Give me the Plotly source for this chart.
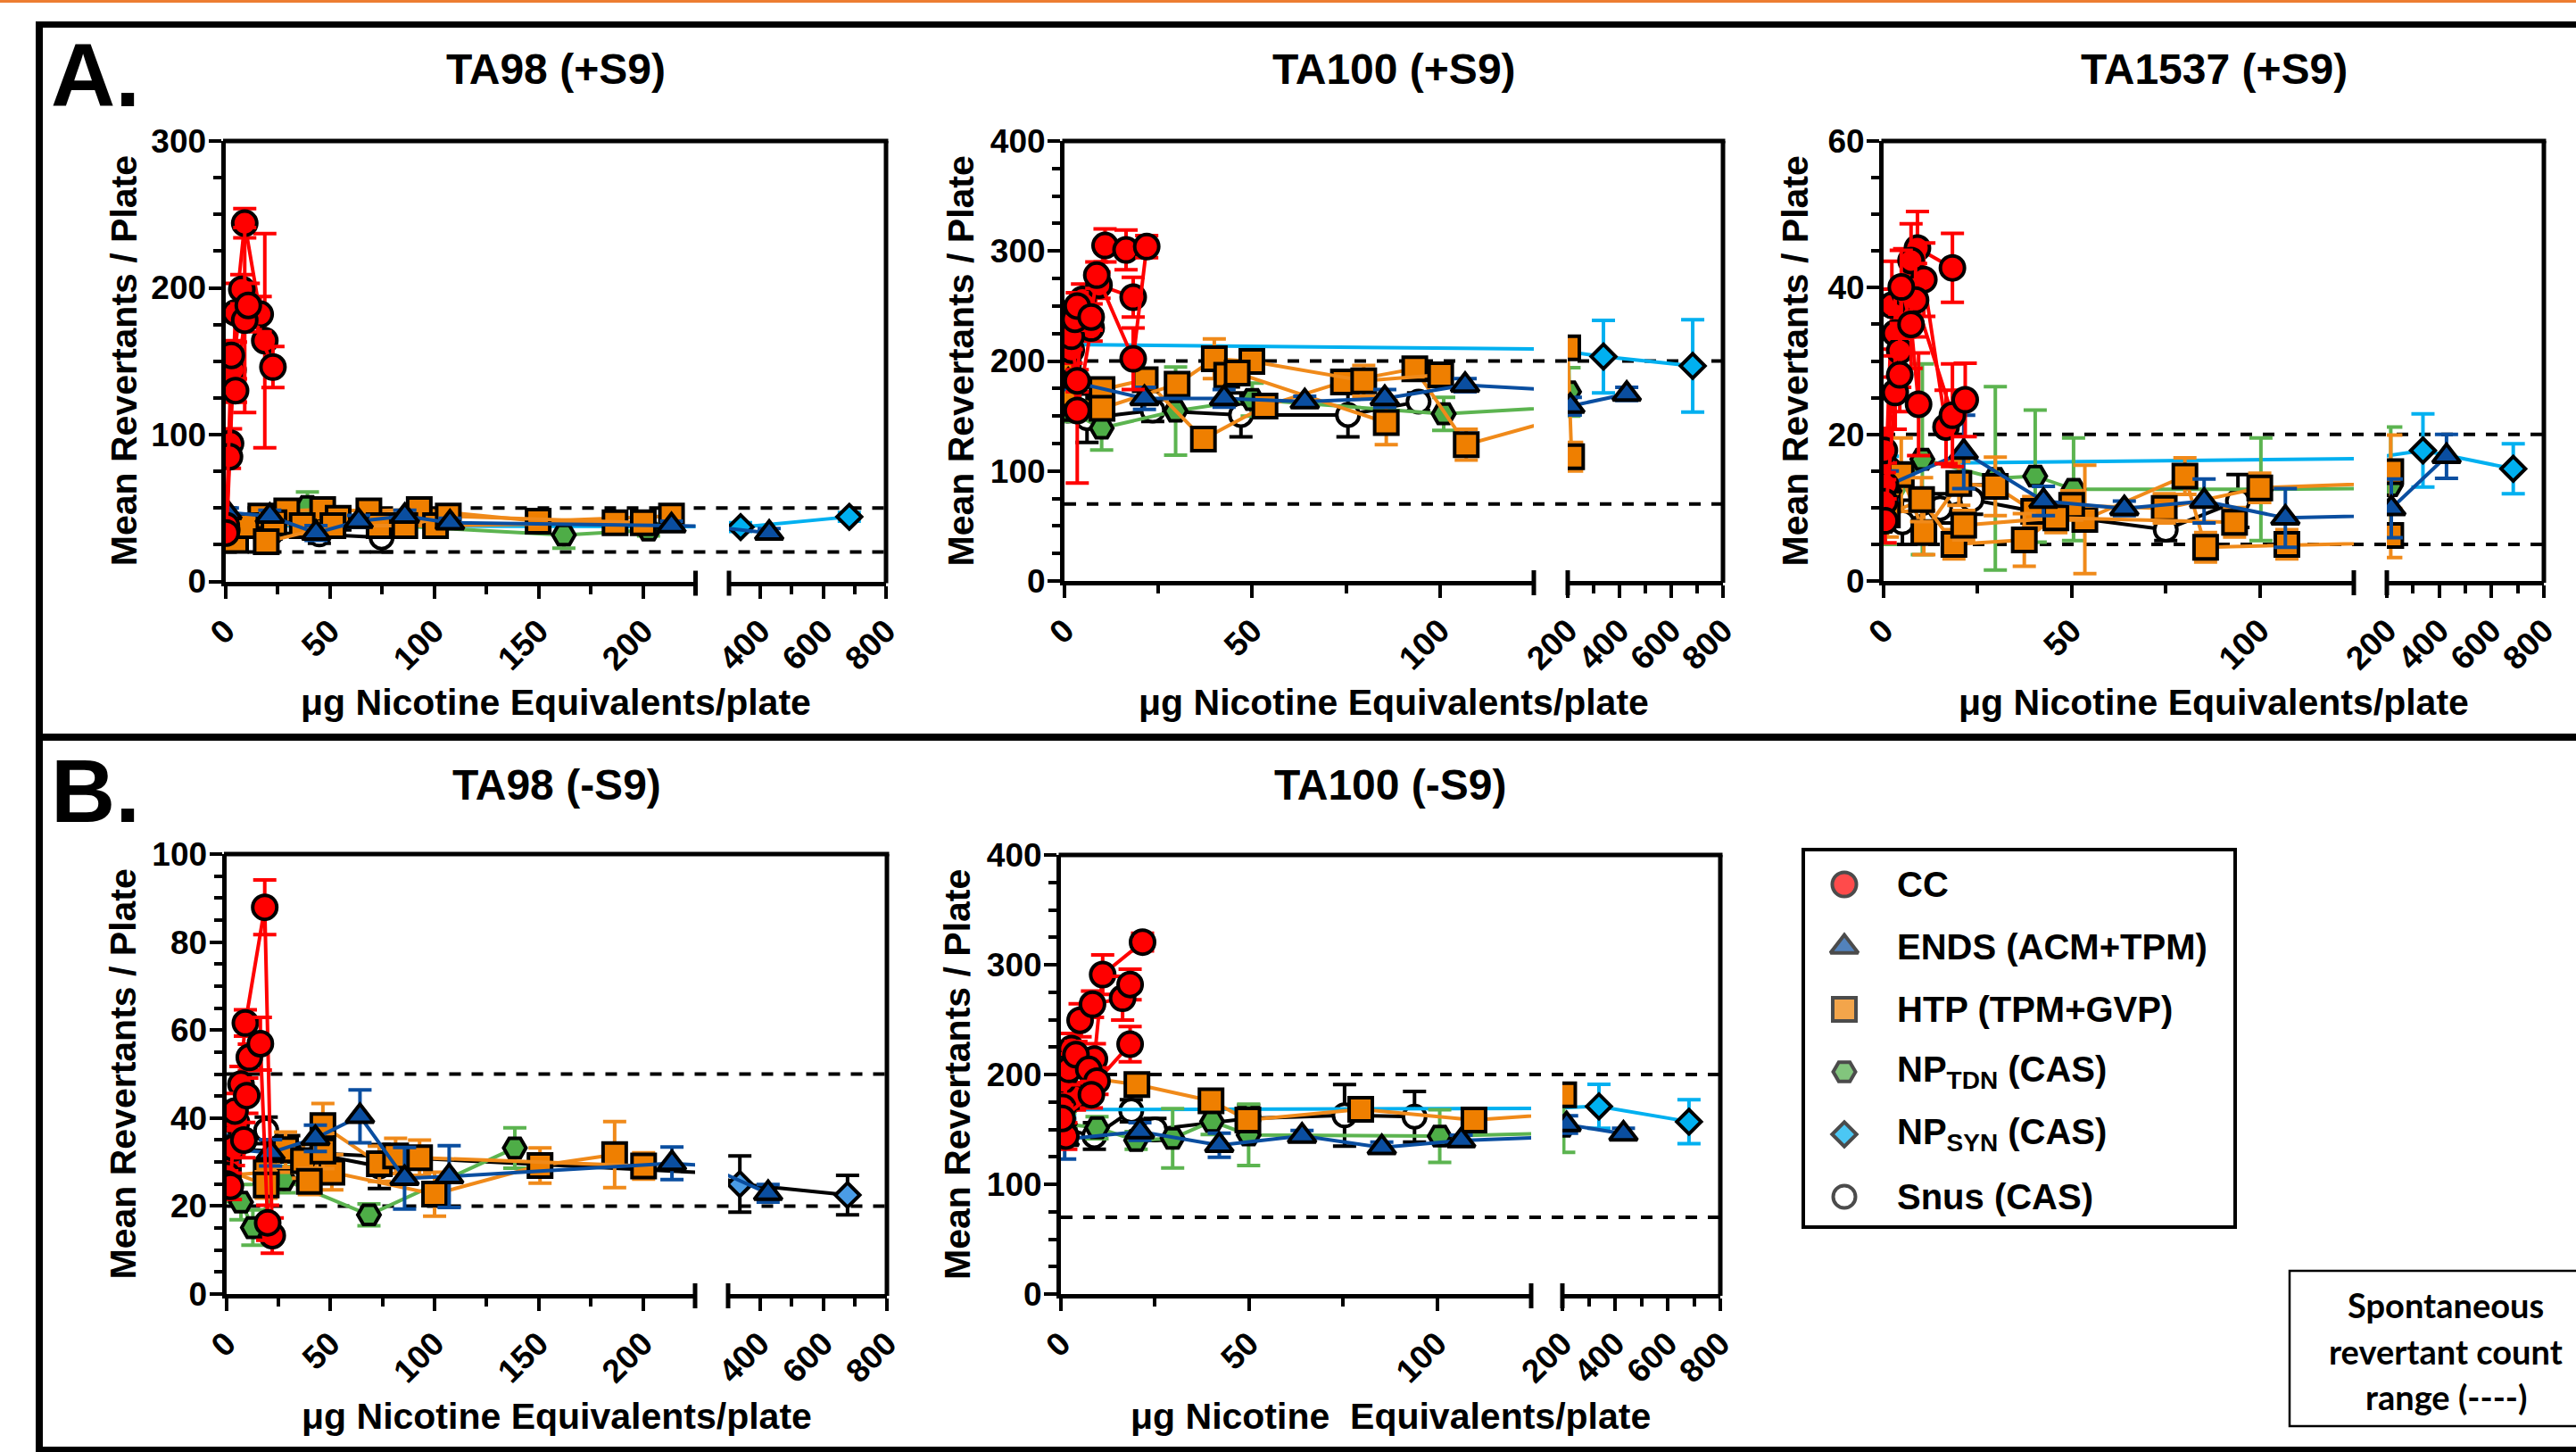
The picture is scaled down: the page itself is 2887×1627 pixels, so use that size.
import plotly.graph_objects as go

W, H = 2887, 1627
FONT = "Liberation Sans, Arial, Helvetica, sans-serif"
NOTE_FONT = "Lato, Carlito, Calibri, sans-serif"

# ---------------- text ----------------
Y_TITLE = "Mean Revertants / Plate"
X_TITLE = "μg Nicotine Equivalents/plate"
X_TITLE_B2 = "μg Nicotine\u00a0 Equivalents/plate"
LEGEND_KEYS = ["CC", "ENDS", "HTP", "NPTDN", "NPSYN", "Snus"]
LEGEND_LABELS = ["CC", "ENDS (ACM+TPM)", "HTP (TPM+GVP)", "NP<sub>TDN</sub> (CAS)",
                 "NP<sub>SYN</sub> (CAS)", "Snus (CAS)"]
NOTE_LINES = ["Spontaneous", "revertant count", "range (----)"]

# ---------------- spontaneous revertant ranges ----------------
SPONT_TA98 = [20, 50]
SPONT_TA100 = [70, 200]
SPONT_TA1537 = [5, 20]

# ---------------- data: (dose, mean, sd) ----------------
# TA98 (+S9)
A1_CC1 = [(0.7, 35, 5), (2.5, 94, 10), (4.9, 183, 20), (9.3, 244, 10), (18.9, 164, 73)]
A1_CC2 = [(0.5, 38, 4), (2.0, 85, 8), (3.7, 144, 12), (7.9, 199, 10), (16.7, 182, 12)]
A1_CC3 = [(0.4, 33, 3), (2.9, 154, 10), (4.9, 130, 8), (9.3, 178, 63), (11.0, 188, 15), (22.8, 146, 14)]
A1_ENDS = [(1, 47, 3), (21.3, 44.5, 4), (43.4, 33, 5), (63.8, 41, 4), (85.9, 44.5, 4), (107.5, 40, 3), (213.5, 38, 3), (428, 33, 3)]
A1_HTP1 = [(4.9, 28, 4), (17, 44.5, 4), (29.4, 48, 4), (46.6, 49, 5), (68.7, 48, 4), (92.8, 49, 4), (149.7, 41, 4), (213.5, 44.5, 4)]
A1_HTP2 = [(9.8, 38, 4), (23.3, 40, 4), (36.8, 38, 4), (54, 43, 4), (73.6, 38, 4), (100.6, 38, 4), (186.5, 40, 4)]
A1_HTP3 = [(19.6, 27, 4), (51.5, 38, 4), (85.9, 38, 4), (106.7, 44.5, 4), (200, 40, 4)]
A1_NPTDN = [(1, 36, 3), (39.3, 51, 10), (80, 38, 4), (162, 31.6, 9), (202.5, 35, 4)]
A1_NPSYN = [(1, 38, 2), (337, 37, 3), (683, 44, 3)]
A1_SNUS = [(1, 36, 3), (22, 33, 4), (45, 32, 6), (74.8, 30, 10)]

# TA100 (+S9)
A2_CC1 = [(1.8, 210, 12), (3.4, 155, 66), (7.1, 230, 12), (10.8, 305, 15), (16.4, 301, 18)]
A2_CC2 = [(1.8, 222.5, 12), (3.4, 182, 10), (4.8, 256, 14), (9.2, 269, 12), (18.3, 258, 18)]
A2_CC3 = [(2.8, 238, 10), (3.4, 250, 12), (7.1, 240, 12), (8.6, 278, 12), (18.3, 202, 28), (21.9, 304, 10)]
A2_ENDS = [(1, 182, 8), (21.3, 166, 10), (42.5, 166, 8), (64, 163, 5), (85.3, 166, 8), (106.7, 178, 6), (210, 159, 8), (428, 170, 6)]
A2_HTP1 = [(1, 189, 8), (10, 174, 10), (21.5, 183, 8), (37, 129, 8), (53.4, 159, 8), (74.3, 181, 8), (93.3, 193, 8), (107, 124, 14), (200, 212, 8), (215, 113, 13)]
A2_HTP2 = [(1, 170, 8), (10, 157, 10), (30, 179, 10), (39.9, 202, 18), (49.9, 199.6, 10), (79.7, 182, 14), (100.2, 187.5, 8)]
A2_HTP3 = [(43.2, 187, 10), (46, 189, 10), (85.7, 144, 20)]
A2_NPTDN = [(1, 155, 10), (9.9, 139, 20), (29.6, 154.5, 40), (50, 165, 15), (101, 152, 15), (205, 172, 22)]
A2_NPSYN = [(0.5, 215, 8), (338, 204, 33), (683, 195.5, 42)]
A2_SNUS = [(1, 155, 8), (6, 148, 22), (23.5, 155, 10), (47, 151, 20), (75.5, 151, 20), (94.3, 163, 8)]

# TA1537 (+S9)
A3_CC1 = [(0.5, 13.1, 3), (2.2, 37.6, 6), (5.6, 39.3, 6), (9.0, 45.4, 5), (18.3, 42.7, 4.7)]
A3_CC2 = [(0.3, 10.8, 3), (3.1, 33.8, 6), (7.3, 43.7, 5), (10.7, 41.1, 5), (16.6, 21, 5)]
A3_CC3 = [(0.2, 17.8, 3), (4.3, 31.4, 5), (8.5, 38.3, 5), (18.3, 22.6, 7), (21.7, 24.7, 5)]
A3_CC4 = [(0.4, 8.2, 3), (3.1, 25.7, 5), (4.3, 28.1, 5), (4.7, 40.1, 5), (7.3, 35, 6), (9.3, 24.1, 7)]
A3_ENDS = [(1, 13, 2), (21.3, 17.6, 5), (42.5, 10.9, 2), (64, 9.9, 1), (85.2, 10.9, 3), (106.8, 8.6, 4), (217, 9.9, 4), (428, 17, 3)]
A3_HTP1 = [(1, 11, 3), (4.7, 14.5, 5), (10.7, 6.6, 3), (20, 13.3, 3), (29.7, 12.9, 4), (39.9, 9.5, 2), (53.5, 8.4, 7.4), (80.1, 14.3, 2.5), (85.6, 4.6, 2), (107.2, 5, 2), (215, 6.2, 3)]
A3_HTP2 = [(1, 9, 3), (10.1, 11.1, 3), (18.7, 5, 2), (37.4, 5.6, 3.6), (50, 10.3, 2), (74.6, 9.9, 2), (100, 12.7, 2), (215, 14.9, 5)]
A3_HTP3 = [(21.3, 7.6, 2), (45.8, 8.6, 2), (93.3, 8, 2)]
A3_NPTDN = [(0.5, 8, 3), (10.3, 16.6, 13), (29.7, 14, 12.5), (40.3, 14.3, 9), (50.5, 12.5, 7), (100.3, 12.5, 7), (215, 13, 8)]
A3_NPSYN = [(1, 16, 1), (338, 17.8, 5), (683, 15.3, 3.4)]
A3_SNUS = [(1, 9, 1), (5, 8, 3), (15, 9.9, 2), (23.4, 11.1, 2), (45, 9, 1.5), (75, 7, 1.5), (94.2, 10.9, 3.6)]

# TA98 (-S9)
B1_CC1 = [(0.5, 24.5, 3), (4.9, 39, 4), (9.2, 61.6, 3), (18.5, 87.9, 6.2), (22.1, 13.3, 4)]
B1_CC2 = [(0.5, 27, 3), (3.5, 33.2, 4), (7.1, 47.7, 4), (11.1, 53.8, 3), (16.4, 56.9, 6), (19.9, 16.2, 4)]
B1_CC3 = [(0.3, 25, 3), (2.0, 24.5, 3), (4.2, 41.6, 4), (8.5, 35, 4), (9.9, 45.1, 4)]
B1_ENDS = [(1, 33, 3), (21.3, 32.1, 3), (42.8, 35.4, 3), (64.2, 40.4, 6), (85.6, 26.3, 7), (107, 26.7, 7), (213.9, 29.7, 3.7), (426, 22.9, 2)]
B1_HTP1 = [(1, 27, 3), (19.2, 27.7, 3), (50.7, 27.7, 4), (100, 22.7, 5), (150.6, 29.2, 4), (186.4, 31.7, 7.5)]
B1_HTP2 = [(1, 28, 3), (19.2, 24.8, 3), (28.5, 32.8, 4), (37.1, 30.3, 4), (46.4, 38.3, 5), (73.5, 29.6, 4), (81.3, 31.4, 4), (92.8, 31, 4), (200.3, 29.1, 3)]
B1_HTP3 = [(39.9, 25.6, 3), (46.4, 32.5, 4)]
B1_NPTDN = [(1, 24, 3), (7.1, 20.9, 4), (12.8, 15.1, 4), (27.8, 26, 3), (68.5, 18, 2.5), (138.5, 33.2, 4.6)]
B1_NPSYN = [(1, 33, 3), (337, 25, 6.4), (676, 22.5, 4.5)]
B1_SNUS = [(1, 30, 3), (19.2, 37.2, 3), (30, 33, 3), (73.5, 29, 5)]

# TA100 (-S9)
B2_CC1 = [(1.3, 144, 12), (3.6, 179.7, 12), (8.9, 214, 14), (11.1, 291, 18), (21.7, 320.6, 8)]
B2_CC2 = [(0.5, 194, 12), (2.8, 223.5, 14), (5.1, 249.4, 15), (8.4, 264, 12), (16.4, 269.5, 20), (18.4, 282, 14)]
B2_CC3 = [(0.5, 170, 12), (2.1, 204.6, 14), (4.0, 218, 12), (7.4, 204.6, 12), (9.6, 194, 12), (18.4, 227.6, 16)]
B2_CC4 = [(0.3, 160, 12), (8.1, 181.6, 12)]
B2_ENDS = [(1, 141, 18), (21, 148, 8), (42.1, 135.6, 11), (64.1, 144, 5), (85.3, 133.5, 5), (106.4, 139.8, 5), (216, 154.5, 8), (432, 146, 5)]
B2_HTP = [(1, 200, 8), (20.2, 190.8, 8), (39.9, 176, 8), (49.7, 158.5, 8), (79.7, 168.3, 8), (109.8, 158.5, 8), (205, 181.6, 8)]
B2_NPTDN = [(1, 155, 10), (9.6, 151.5, 10), (20, 140, 8), (29.7, 141.9, 27), (40.2, 157.3, 12), (49.9, 145, 28), (100.7, 143.9, 24), (205, 153, 24)]
B2_NPSYN = [(1, 168, 5), (339, 171, 20), (681, 157, 20)]
B2_SNUS = [(1, 150, 10), (8.9, 144, 12), (18.7, 167, 10), (25, 150, 10), (49.9, 160, 12), (75.4, 162.8, 28), (94, 161.5, 23)]

# ---------------- styles ----------------
STYLE = {
    "CC": dict(symbol="circle", size=27, fill="#FF0000", line="#FF0000"),
    "ENDS": dict(symbol="triangle-up", size=27, fill="#0A4EA0", line="#0A4EA0"),
    "HTP": dict(symbol="square", size=26, fill="#EF7F00", line="#F08A1A"),
    "NPTDN": dict(symbol="hexagon2", size=25, fill="#4EAD47", line="#5CB450"),
    "NPSYN": dict(symbol="diamond", size=21, fill="#00B0F0", line="#00B0F0"),
    "Snus": dict(symbol="circle", size=25, fill="#FFFFFF", line="#000000"),
}
MARKER_EDGE = 4

ORDER = ["Snus", "NPSYN", "NPTDN", "HTP", "ENDS", "CC"]

PANELS = [
    dict(title="TA98 (+S9)", xtitle=X_TITLE, box=(252.5, 779.5, 817, 993, 158, 651.5),
         r1=[0, 225], r2=[300, 800], yr=[0, 300], ymaj=100, ymin=25, spont=SPONT_TA98,
         ytx=138.5, ty=78, xty=787,
         series={"CC": [A1_CC1, A1_CC2, A1_CC3], "ENDS": [A1_ENDS], "HTP": [A1_HTP1, A1_HTP2, A1_HTP3],
                 "NPTDN": [A1_NPTDN], "NPSYN": [A1_NPSYN], "Snus": [A1_SNUS]}),
    dict(title="TA100 (+S9)", xtitle=X_TITLE, box=(1193, 1719, 1757, 1931, 158, 651),
         r1=[0, 125], r2=[200, 800], yr=[0, 400], ymaj=100, ymin=25, spont=SPONT_TA100,
         ytx=1076, ty=78, xty=787,
         series={"CC": [A2_CC1, A2_CC2, A2_CC3], "ENDS": [A2_ENDS], "HTP": [A2_HTP1, A2_HTP2, A2_HTP3],
                 "NPTDN": [A2_NPTDN], "NPSYN": [A2_NPSYN], "Snus": [A2_SNUS]}),
    dict(title="TA1537 (+S9)", xtitle=X_TITLE, box=(2111, 2638, 2675, 2851, 158, 651),
         r1=[0, 125], r2=[200, 800], yr=[0, 60], ymaj=20, ymin=5, spont=SPONT_TA1537,
         ytx=2011, ty=78, xty=787,
         series={"CC": [A3_CC1, A3_CC2, A3_CC3, A3_CC4], "ENDS": [A3_ENDS], "HTP": [A3_HTP1, A3_HTP2, A3_HTP3],
                 "NPTDN": [A3_NPTDN], "NPSYN": [A3_NPSYN], "Snus": [A3_SNUS]}),
    dict(title="TA98 (-S9)", xtitle=X_TITLE, box=(253.5, 779, 816, 994, 957, 1450),
         r1=[0, 225], r2=[300, 800], yr=[0, 100], ymaj=20, ymin=5, spont=SPONT_TA98,
         ytx=137, ty=879.5, xty=1587,
         override={"NPSYN": dict(line="#000000", fill="#4A9CE6")},
         series={"CC": [B1_CC1, B1_CC2, B1_CC3], "ENDS": [B1_ENDS], "HTP": [B1_HTP1, B1_HTP2, B1_HTP3],
                 "NPTDN": [B1_NPTDN], "NPSYN": [B1_NPSYN], "Snus": [B1_SNUS]}),
    dict(title="TA100 (-S9)", xtitle=X_TITLE_B2, box=(1189, 1716, 1751, 1928, 958, 1450),
         r1=[0, 125], r2=[200, 800], yr=[0, 400], ymaj=100, ymin=25, spont=SPONT_TA100,
         ytx=1073, ty=879.5, xty=1587,
         series={"CC": [B2_CC1, B2_CC2, B2_CC3, B2_CC4], "ENDS": [B2_ENDS], "HTP": [B2_HTP],
                 "NPTDN": [B2_NPTDN], "NPSYN": [B2_NPSYN], "Snus": [B2_SNUS]}),
]


def xn(n):
    return "x" if n == 1 else f"x{n}"


def yn(n):
    return "y" if n == 1 else f"y{n}"


def ln(a, n):
    return f"{a}axis" if n == 1 else f"{a}axis{n}"


def px(v):
    return v / W


def py(v):
    return 1 - v / H


TICKFONT = dict(family=FONT, size=37, color="black", weight="bold")
AX = dict(showline=True, linewidth=5, linecolor="black", showgrid=False, zeroline=False,
          ticks="outside", tickwidth=4, tickcolor="black", ticklen=14, tickfont=TICKFONT,
          fixedrange=True, automargin=False)
MINOR = dict(ticks="outside", ticklen=9, tickwidth=4, tickcolor="black", showgrid=False)

fig = go.Figure()
layout = {}
shapes = []
annotations = []
BLK = dict(color="black", width=5)

for i, p in enumerate(PANELS):
    yax, s1e, s2s, s2e, top, bot = p["box"]
    nx1, nx2, ny = 2 * i + 1, 2 * i + 2, i + 1
    ov = p.get("override", {})
    for key in ORDER:
        st = dict(STYLE[key])
        st.update(ov.get(key, {}))
        for pts in p["series"][key]:
            pts = sorted(pts)
            xs = [q[0] for q in pts]
            ys = [q[1] for q in pts]
            es = [q[2] for q in pts]
            for nx in (nx1, nx2):
                fig.add_trace(go.Scatter(
                    x=xs, y=ys, xaxis=xn(nx), yaxis=yn(ny), mode="lines+markers",
                    line=dict(color=st["line"], width=4),
                    marker=dict(symbol=st["symbol"], size=st["size"], color=st["fill"],
                                line=dict(color="black", width=MARKER_EDGE)),
                    error_y=dict(type="data", array=es, color=st["line"], thickness=4, width=13),
                    showlegend=False, hoverinfo="skip", cliponaxis=True))

    layout[ln("x", nx1)] = dict(AX, domain=[px(yax), px(s1e)], range=p["r1"], anchor=yn(ny),
                                tick0=0, dtick=50, tickangle=-45, minor=dict(MINOR, dtick=25))
    layout[ln("x", nx2)] = dict(AX, domain=[px(s2s), px(s2e)], range=p["r2"], anchor=yn(ny),
                                tick0=0, dtick=200, tickangle=-45, minor=dict(MINOR, dtick=100))
    layout[ln("y", ny)] = dict(AX, domain=[py(bot), py(top)], range=p["yr"], anchor=xn(nx1),
                               tick0=0, dtick=p["ymaj"], minor=dict(MINOR, dtick=p["ymin"]),
                               ticklabelstandoff=-5)

    # spontaneous range dashed lines
    for v in p["spont"]:
        shapes.append(dict(type="line", xref="paper", yref=yn(ny), x0=px(yax), x1=px(s2e),
                           y0=v, y1=v, layer="below",
                           line=dict(color="black", width=4, dash="13px,12px")))
    # frame top and right
    shapes.append(dict(type="line", xref="paper", yref="paper", x0=px(yax - 2.5), x1=px(s2e + 2.5),
                       y0=py(top), y1=py(top), line=BLK))
    shapes.append(dict(type="line", xref="paper", yref="paper", x0=px(s2e), x1=px(s2e),
                       y0=py(top), y1=py(bot + 2), line=BLK))
    # axis break marks
    for bx in (s1e, s2s):
        shapes.append(dict(type="line", xref="paper", yref="paper", x0=px(bx), x1=px(bx),
                           y0=py(bot - 12), y1=py(bot + 16), line=BLK))
    cx = (yax + s2e) / 2
    annotations.append(dict(text=f"<b>{p['title']}</b>", x=px(cx), y=py(p["ty"]), xref="paper",
                            yref="paper", xanchor="center", yanchor="middle", showarrow=False,
                            font=dict(family=FONT, size=48, color="black")))
    annotations.append(dict(text=f"<b>{p['xtitle']}</b>", x=px(cx), y=py(p["xty"]), xref="paper",
                            yref="paper", xanchor="center", yanchor="middle", showarrow=False,
                            font=dict(family=FONT, size=41, color="black")))
    annotations.append(dict(text=f"<b>{Y_TITLE}</b>", x=px(p["ytx"]), y=py((top + bot) / 2),
                            xref="paper", yref="paper", xanchor="center", yanchor="middle",
                            textangle=-90, showarrow=False,
                            font=dict(family=FONT, size=41, color="black")))

# section letters
annotations.append(dict(text="<b>A.</b>", x=px(55), y=py(83.5), xref="paper", yref="paper",
                        xanchor="left", yanchor="middle", showarrow=False,
                        font=dict(family=FONT, size=100, color="black")))
annotations.append(dict(text="<b>B.</b>", x=px(55), y=py(885.5), xref="paper", yref="paper",
                        xanchor="left", yanchor="middle", showarrow=False,
                        font=dict(family=FONT, size=100, color="black")))

# outer frames
shapes.append(dict(type="line", xref="paper", yref="paper", x0=0, x1=1, y0=py(1.5), y1=py(1.5),
                   line=dict(color="#ED7D31", width=3)))
shapes.append(dict(type="line", xref="paper", yref="paper", x0=px(40), x1=1, y0=py(27.5), y1=py(27.5),
                   line=dict(color="black", width=7)))
shapes.append(dict(type="line", xref="paper", yref="paper", x0=px(44), x1=px(44), y0=py(24), y1=0,
                   line=dict(color="black", width=8)))
shapes.append(dict(type="line", xref="paper", yref="paper", x0=px(40), x1=1, y0=py(826), y1=py(826),
                   line=dict(color="black", width=8)))
shapes.append(dict(type="line", xref="paper", yref="paper", x0=px(40), x1=1, y0=py(1624), y1=py(1624),
                   line=dict(color="black", width=6)))

# legend (hidden helper axes)
LEG_ROW0, LEG_STEP = 991, 70
nrow = len(LEGEND_KEYS)
layout["xaxis11"] = dict(domain=[px(2047), px(2087)], range=[0, 1], visible=False, anchor="y6",
                         fixedrange=True, automargin=False)
layout["yaxis6"] = dict(domain=[py(LEG_ROW0 + LEG_STEP * (nrow - 1)), py(LEG_ROW0)],
                        range=[nrow - 1, 0], visible=False, anchor="x11", fixedrange=True,
                        automargin=False)
fig.add_trace(go.Scatter(
    x=[0.5] * nrow, y=list(range(nrow)), xaxis="x11", yaxis="y6", mode="markers",
    marker=dict(symbol=[STYLE[k]["symbol"] for k in LEGEND_KEYS],
                size=[STYLE[k]["size"] for k in LEGEND_KEYS],
                color=[STYLE[k]["fill"] for k in LEGEND_KEYS],
                line=dict(color="black", width=MARKER_EDGE)),
    showlegend=False, hoverinfo="skip", cliponaxis=False))
for k, lab in enumerate(LEGEND_LABELS):
    annotations.append(dict(text=f"<b>{lab}</b>", x=px(2124), y=k, xref="paper", yref="y6",
                            xanchor="left", yanchor="middle", showarrow=False,
                            font=dict(family=FONT, size=40, color="black")))
shapes.append(dict(type="rect", xref="paper", yref="paper", x0=px(2021), x1=px(2505),
                   y0=py(952), y1=py(1375), line=dict(color="black", width=4)))

# spontaneous note box
shapes.append(dict(type="rect", xref="paper", yref="paper", x0=px(2566), x1=1.05,
                   y0=py(1424), y1=py(1598), line=dict(color="black", width=2.5)))
for k, t in enumerate(NOTE_LINES):
    annotations.append(dict(text=f"<b>{t}</b>", x=px(2741), y=py(1462 + 51.5 * k), xref="paper",
                            yref="paper", xanchor="center", yanchor="middle", showarrow=False,
                            font=dict(family=NOTE_FONT, size=38, color="black")))

fig.update_layout(template="none", width=W, height=H, autosize=False,
                  margin=dict(l=0, r=0, t=0, b=0, pad=0, autoexpand=False),
                  paper_bgcolor="white", plot_bgcolor="rgba(0,0,0,0)", showlegend=False,
                  shapes=shapes, annotations=annotations, **layout)

fig.write_html("out.html", config={"displayModeBar": False},
               post_script="document.body.style.margin='0';document.body.style.overflow='hidden';")
